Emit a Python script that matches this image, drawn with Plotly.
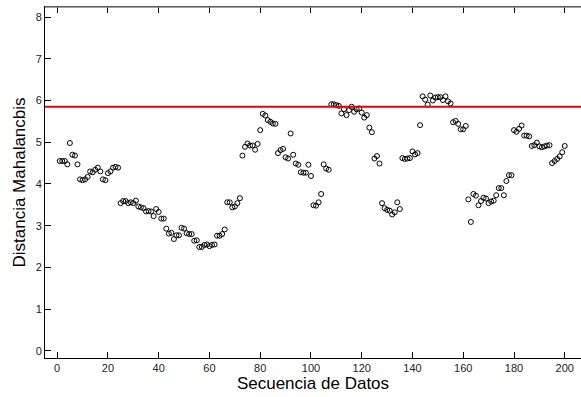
import plotly.graph_objects as go

# Mahalanobis distance for each observation in the data sequence
sequence = list(range(1, 201))
distance = [
    4.55, 4.55, 4.55, 4.47, 4.98, 4.70, 4.68, 4.47, 4.11, 4.09,
    4.11, 4.17, 4.30, 4.28, 4.34, 4.39, 4.30, 4.11, 4.09, 4.26,
    4.30, 4.39, 4.41, 4.39, 3.54, 3.59, 3.59, 3.54, 3.56, 3.54,
    3.60, 3.46, 3.44, 3.42, 3.34, 3.35, 3.34, 3.23, 3.40, 3.33,
    3.17, 3.17, 2.93, 2.81, 2.83, 2.68, 2.77, 2.77, 2.95, 2.93,
    2.82, 2.80, 2.80, 2.64, 2.65, 2.49, 2.49, 2.54, 2.55, 2.51,
    2.54, 2.55, 2.76, 2.76, 2.80, 2.91, 3.56, 3.56, 3.44, 3.46,
    3.54, 3.66, 4.68, 4.89, 4.97, 4.92, 4.92, 4.82, 4.96, 5.29,
    5.68, 5.64, 5.53, 5.49, 5.45, 5.44, 4.74, 4.81, 4.84, 4.64,
    4.61, 5.21, 4.70, 4.49, 4.46, 4.28, 4.27, 4.27, 4.46, 4.19,
    3.49, 3.48, 3.56, 3.76, 4.47, 4.37, 4.34, 5.91, 5.91, 5.89,
    5.87, 5.69, 5.79, 5.65, 5.77, 5.85, 5.73, 5.79, 5.81, 5.71,
    5.59, 5.65, 5.35, 5.24, 4.61, 4.67, 4.49, 3.54, 3.42, 3.38,
    3.36, 3.27, 3.32, 3.56, 3.40, 4.62, 4.60, 4.61, 4.62, 4.78,
    4.71, 4.74, 5.41, 6.10, 6.02, 5.90, 6.12, 6.00, 6.07, 6.08,
    6.08, 6.01, 6.10, 5.98, 5.93, 5.48, 5.51, 5.44, 5.31, 5.31,
    5.39, 3.63, 3.09, 3.76, 3.72, 3.49, 3.59, 3.67, 3.65, 3.54,
    3.58, 3.60, 3.73, 3.90, 3.90, 3.73, 4.07, 4.21, 4.21, 5.29,
    5.25, 5.32, 5.40, 5.16, 5.16, 5.14, 4.91, 4.93, 4.99, 4.90,
    4.88, 4.90, 4.92, 4.93, 4.50, 4.55, 4.60, 4.66, 4.76, 4.91,
]
threshold = 5.85

x_ticks = [0, 20, 40, 60, 80, 100, 120, 140, 160, 180, 200]
y_ticks = [0, 1, 2, 3, 4, 5, 6, 7, 8]

fig = go.Figure()
fig.add_trace(go.Scatter(
    x=sequence, y=distance, mode="markers",
    marker=dict(symbol="circle-open", size=5, color="black",
                line=dict(width=1, color="black")),
    showlegend=False,
))

# control limit
fig.add_shape(type="line", xref="paper", x0=0, x1=1, yref="y",
              y0=threshold, y1=threshold,
              line=dict(color="#e8000b", width=2))

# top frame edge
fig.add_shape(type="line", xref="paper", x0=0, x1=1, yref="paper",
              y0=1, y1=1, line=dict(color="#808080", width=1.5))

tick_font = dict(family="Liberation Sans, Arial, sans-serif", size=11, color="#222222")
title_font = dict(family="Liberation Sans, Arial, sans-serif", size=17, color="black")

fig.update_layout(
    width=581, height=397,
    margin=dict(l=45, r=0, t=7, b=39),
    paper_bgcolor="white", plot_bgcolor="white",
    xaxis=dict(
        range=[-4.8, 206.4], tickvals=x_ticks, ticks="inside", ticklen=6,
        tickcolor="black", showline=True, linecolor="black", linewidth=1,
        mirror="ticks", showgrid=False, zeroline=False, tickfont=tick_font,
        title=dict(text="Secuencia de Datos", font=title_font, standoff=3),
    ),
    yaxis=dict(
        range=[-0.17, 8.24], tickvals=y_ticks, ticks="inside", ticklen=6,
        tickcolor="black", showline=True, linecolor="black", linewidth=1,
        showgrid=False, zeroline=False, tickfont=tick_font,
        title=dict(text="Distancia Mahalancbis", font=title_font, standoff=5),
    ),
)

fig.write_html("out.html")
